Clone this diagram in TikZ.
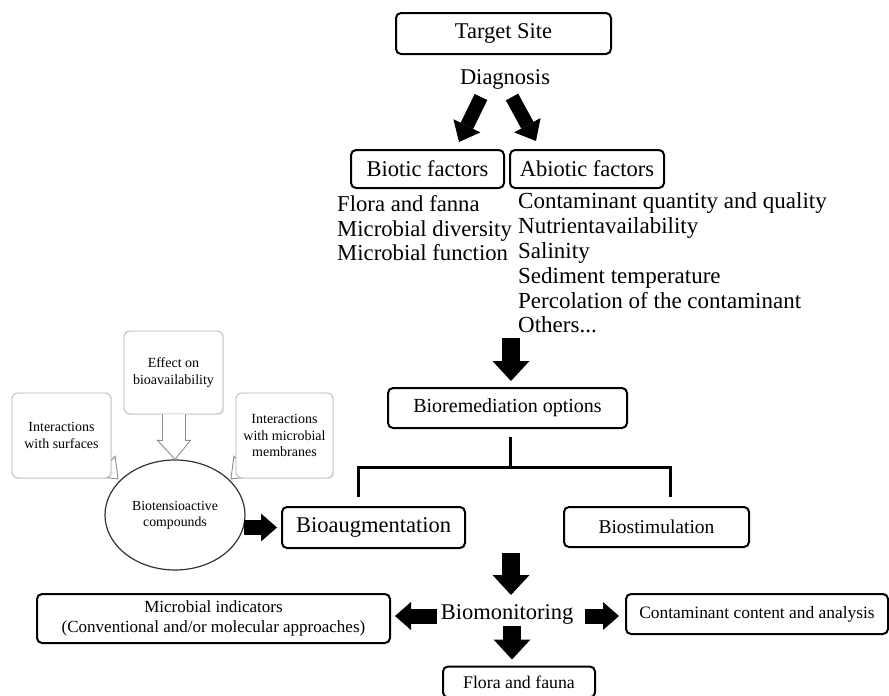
\documentclass[tikz,border=0pt]{standalone}
\usepackage{fontspec}
\setmainfont{Liberation Serif}
\usetikzlibrary{arrows.meta,shapes.geometric,calc,shadows,backgrounds}
\newcommand\myfs[2]{\fontsize{#1}{#2}\selectfont}
\begin{document}
\begin{tikzpicture}[x=1pt,y=-1pt,
  mbox/.style={draw=black, line width=2pt, rounded corners=5pt, inner sep=0pt, fill=white, align=center},
  gbox/.style={draw=black!30, line width=0.8pt, rounded corners=6pt, fill=white, inner sep=0pt, align=center,
     font=\myfs{14}{16.5}, drop shadow={opacity=0.15, shadow xshift=1.2pt, shadow yshift=-1.2pt}},
  bigtxt/.style={font=\myfs{22.5}{24}},
  midtxt/.style={font=\myfs{20}{22}},
  smltxt/.style={font=\myfs{17}{19.5}},
  plain/.style={inner sep=0pt, align=left},
  fatA/.style={line width=18pt, -{Triangle[width=37pt,length=20pt,line width=0pt]}},
  fatB/.style={line width=14pt, -{Triangle[width=30pt,length=18pt,line width=0pt]}},
  fatC/.style={line width=15pt, -{Triangle[width=28pt,length=16pt,line width=0pt]}},
  treeline/.style={line width=3pt},
  hollow/.style={draw=black!45, line width=0.9pt, fill=white, line join=miter}
]
\useasboundingbox (0,0) rectangle (889,696);

% top part
\node[mbox, bigtxt, minimum width=215pt, minimum height=41pt] (tsite) at (503.5,33.5) {Target Site};
\node[plain, bigtxt] (diag) at (505,79) {Diagnosis};
\node[mbox, bigtxt, minimum width=153pt, minimum height=38pt] (biotic) at (427.5,169) {Biotic factors};
\node[mbox, bigtxt, minimum width=154pt, minimum height=38pt] (abiotic) at (587,169) {Abiotic factors};

\node[plain, anchor=north west, font=\myfs{22.7}{24.5}] (bioticlist) at (337,195.8)
  {Flora and fanna\\Microbial diversity\\Microbial function};
\node[plain, anchor=north west, font=\myfs{23}{24.8}] (abioticlist) at (518,192.8)
  {Contaminant quantity and quality\\Nutrientavailability\\Salinity\\Sediment temperature\\Percolation of the contaminant\\Others...};

\coordinate (a1s) at (481,97);
\coordinate (a1e) at (459,142);
\coordinate (a2s) at (512,97);
\coordinate (a2e) at (536,141);
\draw[fatB] (a1s) -- (a1e);
\draw[fatB] (a2s) -- (a2e);

% bioremediation
\node[mbox, midtxt, minimum width=239pt, minimum height=40pt] (bopt) at (507.5,408) {Bioremediation options};
\coordinate (a3s) at (511,338);
\draw[fatA, shorten >=6pt] (a3s) -- (a3s |- bopt.north);

\node[mbox, bigtxt, minimum width=183pt, minimum height=41pt] (baug) at (373.5,527.5) {Bioaugmentation};
\node[mbox, font=\myfs{19.5}{21}, minimum width=185pt, minimum height=40pt] (bstim) at (656.5,527) {Biostimulation};

\coordinate (tj) at (510,467);
\draw[treeline] (tj |- bopt.south) ++(0,8) -- (tj);
\draw[treeline] (358,497) coordinate (tl) -- (tl |- tj) -- (670,467) coordinate (tr) -- (670,497);

% left cluster
\node[gbox, minimum width=99pt, minimum height=83pt] (eff) at (173.5,372.5) {Effect on\\bioavailability};
\node[gbox, minimum width=99pt, minimum height=85pt] (isurf) at (61.5,435.5) {Interactions\\with surfaces};
\node[gbox, minimum width=97pt, minimum height=85pt] (imem) at (284.5,435.5) {Interactions\\with microbial\\membranes};
\node[ellipse, draw=black!80, line width=1.2pt, fill=white, minimum width=140pt, minimum height=110pt,
      inner sep=0pt, align=center, font=\myfs{13.8}{16}] (bt) at (175,515) {Biotensioactive\\compounds};

% hollow arrow from effect box
\draw[hollow] ($(eff.south)+(-11,0)$) -- ++(0,26) -- ++(-5,0) -- (bt.north) -- ($(eff.south)+(17,26)$)
   -- ($(eff.south)+(12,26)$) -- ($(eff.south)+(12,0)$);

\begin{pgfonlayer}{background}
  \draw[hollow, shift={(118,479)}, rotate=-45]
     (-38,-6) -- (-18,-6) -- (-18,-14) -- (0,0) -- (-18,14) -- (-18,6) -- (-38,6) -- cycle;
  \draw[hollow, shift={(231,479)}, rotate=-135]
     (-38,-6) -- (-18,-6) -- (-18,-14) -- (0,0) -- (-18,14) -- (-18,6) -- (-38,6) -- cycle;
\end{pgfonlayer}

\draw[fatC, shorten <=-2pt, shorten >=4pt] (bt.east |- baug.west) -- (baug.west);

% biomonitoring
\node[plain, bigtxt] (bmon) at (507,614) {Biomonitoring};
\coordinate (a5s) at (511,553);
\draw[fatA] (a5s) -- (511,595) coordinate (a5e);

\node[mbox, smltxt, minimum width=353pt, minimum height=49pt] (micro) at (213.5,618.5)
  {Microbial indicators\\(Conventional and/or molecular approaches)};
\node[mbox, font=\myfs{17.4}{19}, minimum width=262pt, minimum height=40pt] (cont) at (757,614) {Contaminant content and analysis};
\node[mbox, font=\myfs{17.8}{19}, minimum width=152pt, minimum height=31pt] (flora) at (519,682) {Flora and fauna};

\draw[fatC] ($(bmon.west)+(-4,2)$) -- ($(micro.east)+(4,-2.5)$);
\draw[fatC] ($(bmon.east)+(12,2)$) -- ($(cont.west)+(-6,2)$);
\coordinate (a8s) at (512,626);
\draw[fatA, shorten >=6pt] (a8s) -- (a8s |- flora.north);
\end{tikzpicture}
\end{document}
